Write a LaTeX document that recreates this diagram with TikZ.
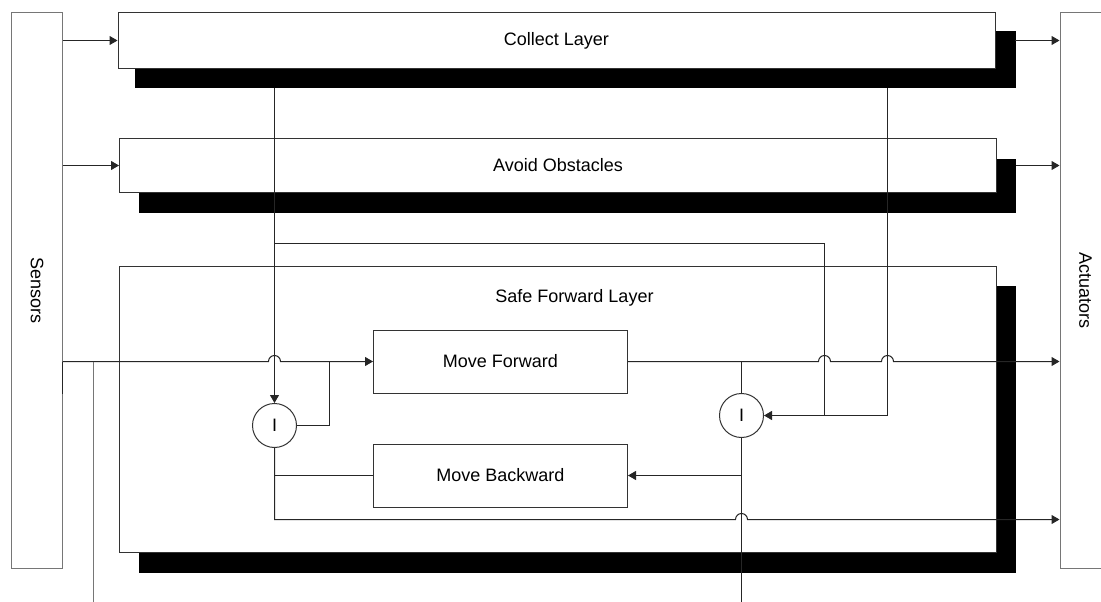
\documentclass[tikz,border=0pt]{standalone}
\usepackage{fontspec}
\setmainfont{Liberation Sans}
\usetikzlibrary{arrows.meta,calc}
\definecolor{lnc}{HTML}{262626}
\definecolor{bxc}{HTML}{333333}
\definecolor{iob}{HTML}{767676}
\tikzset{
  lbl/.style={font=\fontsize{18}{21}\selectfont},
  layerbox/.style={draw=bxc,fill=white,line width=1pt,minimum width=877pt,inner sep=0pt,lbl},
  iobox/.style={draw=iob,fill=white,line width=1pt,minimum width=51pt,minimum height=556pt,inner sep=0pt},
  modbox/.style={draw=bxc,fill=white,line width=1pt,minimum width=254pt,minimum height=63pt,inner sep=0pt,lbl},
  inhib/.style={circle,draw=bxc,fill=white,line width=1pt,minimum size=44pt,inner sep=0pt,lbl},
  conn/.style={draw=lnc,line width=1pt},
  arr/.style={conn,-{Triangle[length=8pt,width=9pt]}},
  gconn/.style={draw=iob,line width=1pt}
}
\begin{document}
\begin{tikzpicture}[x=1pt,y=-1pt]
\useasboundingbox (-0.5,-0.5) rectangle (1100.5,601.5);
\clip (-0.5,-0.5) rectangle (1100.5,601.5);
% shadows
\fill (134,31) rectangle (1015,88);
\fill (138,158) rectangle (1015,212);
\fill (138,285) rectangle (1015,572);
% layer boxes
\node[layerbox,minimum height=56pt] (collect) at (556,40) {Collect Layer};
\node[layerbox,minimum height=54pt] (avoid) at (557.5,165) {Avoid Obstacles};
\node[draw=bxc,fill=white,line width=1pt,minimum width=877pt,minimum height=286pt,inner sep=0pt] (safe) at (557.5,409) {};
\node[lbl] (safetitle) at (574,297) {Safe Forward Layer};
% sensors / actuators
\node[iobox] (sensors) at (36.5,290) {};
\node[rotate=-90,lbl] (senslabel) at (36.5,290) {Sensors};
\node[iobox] (actuators) at (1085,290) {};
\node[rotate=-90,lbl] (actlabel) at (1085,290) {Actuators};
% modules
\node[modbox] (mf) at (500,361) {Move Forward};
\node[modbox] (mb) at (500,475) {Move Backward};
\node[inhib] (i1) at (274,425) {I};
\node[inhib] (i2) at (741,415) {I};
% named junctions
\coordinate (cs1) at (274,88);
\coordinate (cs2) at (887,88);
\coordinate (j243) at (274,243);
\coordinate (r243) at (824,243);
\coordinate (sin) at (62,361);
\coordinate (b329) at (329,361);
\coordinate (b93) at (93,361);
\coordinate (o741) at (741,361);
\coordinate (bot93) at (93,610);
\coordinate (bot741) at (741,610);
% sensor inputs
\draw[arr] (sensors.east |- collect.west) -- (collect.west);
\draw[arr] (sensors.east |- avoid.west) -- (avoid.west);
% layer outputs
\draw[arr] ([xshift=19pt]collect.east) -- (actuators.west |- collect.east);
\draw[arr] ([xshift=19pt]avoid.east) -- (actuators.west |- avoid.east);
% collect -> inhibitors
\draw[arr] (cs1) -- (i1.north);
\draw[conn] (j243) -- (r243) -- (824,415);
\draw[arr] (cs2) -- (887,415) -- (i2.east);
% sensor line into Move Forward with hop over x=274
\draw[arr] (sin) -- (268,361) arc[start angle=180,end angle=0,radius=6pt] -- (mf.west);
\draw[conn] (b329) -- (329,425) -- (i1.east);
\draw[gconn] (b93) -- (bot93);
\draw[conn] (sin) -- (62,393);
% Move Forward output with hops over 824 and 887
\draw[arr] (mf.east) -- (818,361) arc[start angle=180,end angle=0,radius=6pt]
  -- (881,361) arc[start angle=180,end angle=0,radius=6pt] -- (actuators.west |- mf.east);
\draw[conn] (o741) -- (i2.north);
\draw[conn] (i2.south) -- (bot741);
\draw[arr] (741,475) -- (mb.east);
% Move Backward output / i1 output to actuators
\draw[conn] (mb.west) -- (274,475);
\draw[arr] (i1.south) -- (274,519) -- (735,519) arc[start angle=180,end angle=0,radius=6pt] -- (actuators.west |- 0,519);
\end{tikzpicture}
\end{document}
